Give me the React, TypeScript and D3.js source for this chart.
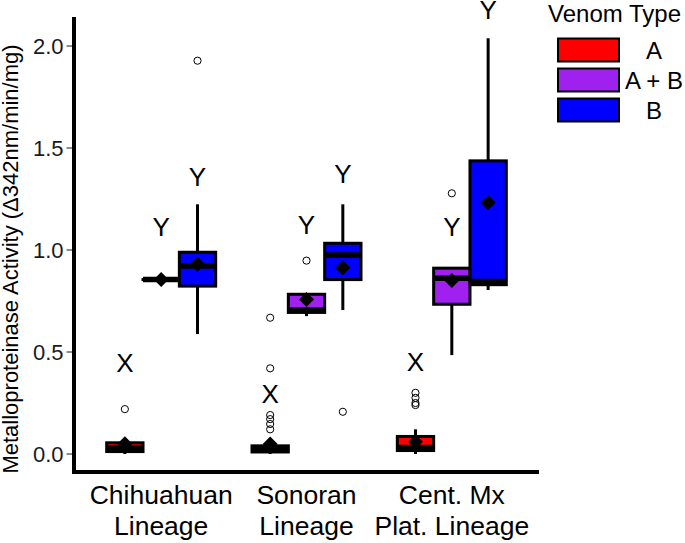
import React from "react";
import * as d3 from "d3";

// ---- data ----
const lineageLabels = [
  ["Chihuahuan", "Lineage"],
  ["Sonoran", "Lineage"],
  ["Cent. Mx", "Plat. Lineage"],
];
const venomTypes = ["A", "A + B", "B"];
const venomColors = ["#FF0000", "#A020F0", "#0000FF"];
const yTicks = [0, 0.5, 1, 1.5, 2];

// [lineage][venomType]
const whiskerLow = [
  [0.0, 0.855, 0.588],
  [0.0, 0.676, 0.706],
  [0.0, 0.485, 0.804],
];
const q1 = [
  [0.012, 0.855, 0.823],
  [0.01, 0.694, 0.855],
  [0.017, 0.734, 0.83],
];
const median = [
  [0.03, 0.855, 0.922],
  [0.025, 0.706, 0.975],
  [0.032, 0.861, 0.846],
];
const q3 = [
  [0.055, 0.855, 0.989],
  [0.04, 0.783, 1.033],
  [0.086, 0.911, 1.437],
];
const whiskerHigh = [
  [0.075, 0.855, 1.224],
  [0.075, 0.783, 1.224],
  [0.121, 0.911, 2.038],
];
const means = [
  [0.05, 0.855, 0.93],
  [0.049, 0.758, 0.913],
  [0.06, 0.85, 1.232],
];
const outliers = [
  [[0.22], [], [1.928]],
  [[0.668, 0.42, 0.191, 0.171, 0.147, 0.121], [0.948], [0.207]],
  [[0.3, 0.275, 0.25, 0.24], [1.278], []],
];
const letters = [
  ["X", "Y", "Y"],
  ["X", "Y", "Y"],
  ["X", "Y", "Y"],
];
const letterPos = [
  [0.446, 1.114, 1.359],
  [0.298, 1.122, 1.376],
  [0.454, 1.114, 2.176],
];

const W = 685;
const H = 543;
const FONT = "Arial, 'Liberation Sans', Helvetica, sans-serif";

export default function App() {
  const panelLeft = 74;
  const panelRight = 539;
  const panelTop = 17;
  const panelBottom = 472;

  const x = d3.scaleLinear().domain([0.4, 3.6]).range([panelLeft, panelRight]);
  const y = d3.scaleLinear().domain([-0.0882, 2.1422]).range([panelBottom, panelTop]);
  const dodge = 0.25;
  const halfW = 0.125;

  const diamond = (cx: number, cy: number, r: number) =>
    `M${cx},${cy - r}L${cx + r},${cy}L${cx},${cy + r}L${cx - r},${cy}Z`;

  const groups: any[] = [];
  lineageLabels.forEach((_, li) => {
    venomTypes.forEach((__, ti) => {
      const c = li + 1 + (ti - 1) * dodge;
      groups.push({ li, ti, c });
    });
  });

  return (
    <svg
      width={W}
      height={H}
      style={{ position: "absolute", left: 0, top: 0, background: "#fff" }}
      fontFamily={FONT}
    >
      {/* whiskers */}
      {groups.map(({ li, ti, c }) => (
        <g key={`w${li}${ti}`} stroke="#000" strokeWidth={3}>
          <line x1={x(c)} x2={x(c)} y1={y(q3[li][ti])} y2={y(whiskerHigh[li][ti])} />
          <line x1={x(c)} x2={x(c)} y1={y(q1[li][ti])} y2={y(whiskerLow[li][ti])} />
        </g>
      ))}
      {/* boxes */}
      {groups.map(({ li, ti, c }) => (
        <g key={`b${li}${ti}`}>
          <rect
            x={x(c - halfW)}
            width={x(c + halfW) - x(c - halfW)}
            y={y(q3[li][ti])}
            height={Math.max(0.01, y(q1[li][ti]) - y(q3[li][ti]))}
            fill={venomColors[ti]}
            stroke="#000"
            strokeWidth={3}
          />
          <line
            x1={x(c - halfW)}
            x2={x(c + halfW)}
            y1={y(median[li][ti])}
            y2={y(median[li][ti])}
            stroke="#000"
            strokeWidth={5.5}
          />
        </g>
      ))}
      {/* outliers */}
      {groups.map(({ li, ti, c }) =>
        outliers[li][ti].map((v, k) => (
          <circle
            key={`o${li}${ti}${k}`}
            cx={x(c)}
            cy={y(v)}
            r={3.6}
            fill="none"
            stroke="#000"
            strokeWidth={1}
          />
        ))
      )}
      {/* means */}
      {groups.map(({ li, ti, c }) => (
        <path key={`m${li}${ti}`} d={diamond(x(c), y(means[li][ti]), 7.5)} fill="#000" />
      ))}
      {/* letters */}
      {groups.map(({ li, ti, c }) => (
        <text
          key={`l${li}${ti}`}
          x={x(c)}
          y={y(letterPos[li][ti]) + 9.3}
          textAnchor="middle"
          fontSize={26}
          fill="#000"
        >
          {letters[li][ti]}
        </text>
      ))}

      {/* axes */}
      <line x1={panelLeft} x2={panelLeft} y1={panelTop} y2={panelBottom + 2} stroke="#000" strokeWidth={4} />
      <line x1={panelLeft - 2} x2={panelRight} y1={panelBottom} y2={panelBottom} stroke="#000" strokeWidth={4} />
      {yTicks.map((t) => (
        <g key={`t${t}`}>
          <line x1={panelLeft - 7.5} x2={panelLeft - 2} y1={y(t)} y2={y(t)} stroke="#333" strokeWidth={1.1} />
          <text x={63.5} y={y(t) + 8} textAnchor="end" fontSize={22} fill="#1a1a1a">
            {t.toFixed(1)}
          </text>
        </g>
      ))}
      {lineageLabels.map((lines, li) => (
        <text key={`x${li}`} x={x(li + 1)} textAnchor="middle" fontSize={26.5} fill="#000">
          {lines.map((s, k) => (
            <tspan key={k} x={x(li + 1)} y={504 + k * 31}>
              {s}
            </tspan>
          ))}
        </text>
      ))}
      <text
        transform={`translate(18,259) rotate(-90)`}
        textAnchor="middle"
        fontSize={22}
        fill="#000"
      >
        Metalloproteinase Activity (Δ342nm/min/mg)
      </text>

      {/* legend */}
      <text x={548} y={22} fontSize={24} fill="#000">
        Venom Type
      </text>
      {venomTypes.map((v, i) => (
        <g key={`lg${i}`}>
          <rect x={558} y={38.5 + i * 30} width={61} height={23} fill={venomColors[i]} stroke="#000" strokeWidth={2} />
          <text x={654} y={50 + i * 30 + 8.5} textAnchor="middle" fontSize={24} fill="#000">
            {v}
          </text>
        </g>
      ))}
    </svg>
  );
}
